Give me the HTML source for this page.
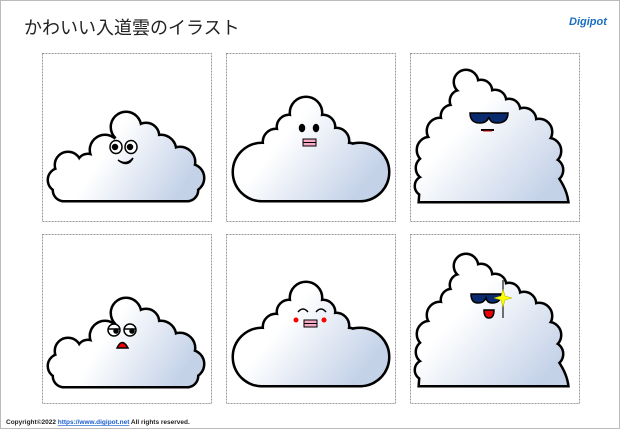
<!DOCTYPE html>
<html><head><meta charset="utf-8"><style>
body{margin:0;width:620px;height:430px;overflow:hidden;background:#fff;font-family:"Liberation Sans","Noto Sans CJK JP",sans-serif}
</style></head><body>
<svg width="620" height="430" viewBox="0 0 620 430" xmlns="http://www.w3.org/2000/svg">
<defs>
<linearGradient id="gA" x1="80" y1="130" x2="190" y2="200" gradientUnits="userSpaceOnUse">
<stop offset="0.25" stop-color="#ffffff"/><stop offset="0.9" stop-color="#c4d2e8"/></linearGradient>
<linearGradient id="gB" x1="260" y1="110" x2="370" y2="200" gradientUnits="userSpaceOnUse">
<stop offset="0.25" stop-color="#ffffff"/><stop offset="0.9" stop-color="#c4d2e8"/></linearGradient>
<linearGradient id="gC" x1="440" y1="90" x2="560" y2="200" gradientUnits="userSpaceOnUse">
<stop offset="0.25" stop-color="#ffffff"/><stop offset="0.9" stop-color="#c4d2e8"/></linearGradient>
<g id="cA">
<circle cx="68" cy="165" r="12"/><circle cx="60" cy="180" r="11"/><circle cx="64" cy="190" r="10"/><circle cx="88" cy="165" r="10"/>
<circle cx="105" cy="150" r="14"/><circle cx="126" cy="127" r="14"/><circle cx="146" cy="136" r="12"/><circle cx="161" cy="150" r="14"/>
<circle cx="180" cy="162" r="14"/><circle cx="190" cy="178" r="13"/><circle cx="187" cy="190" r="10"/>
<polygon points="64,200 64,190 60,180 68,165 88,165 105,150 126,127 146,136 161,150 180,162 190,178 187,190 187,200"/>
</g>
<g id="cB">
<circle cx="306" cy="113" r="15"/><circle cx="289" cy="127" r="11"/><circle cx="323" cy="127" r="11"/><circle cx="276" cy="142" r="12"/>
<circle cx="336" cy="141" r="12"/><circle cx="268" cy="160" r="14"/><circle cx="348" cy="158" r="14"/>
<circle cx="262" cy="172" r="28"/><circle cx="360" cy="172" r="28"/>
<polygon points="262,200 262,172 268,160 276,142 289,127 306,113 323,127 336,141 348,158 360,172 360,200"/>
</g>
<g id="cC">
<circle cx="466" cy="82" r="11"/><circle cx="481" cy="91" r="10"/><circle cx="495" cy="101" r="10"/><circle cx="509" cy="110" r="10"/>
<circle cx="524" cy="120" r="11"/><circle cx="539" cy="132" r="12"/><circle cx="548" cy="151" r="12"/><circle cx="551" cy="170" r="11"/>
<circle cx="461" cy="101" r="10"/><circle cx="452" cy="116" r="10"/><circle cx="440" cy="131" r="12"/><circle cx="430" cy="150" r="12"/>
<circle cx="428" cy="168" r="11"/><circle cx="425" cy="186" r="9"/>
<path d="M420 201 L421 186 L428 168 L430 150 L440 131 L452 116 L461 101 L466 82 L481 91 L495 101 L509 110 L524 120 L539 132 L548 151 L551 170 Q565 186 567 201 Z"/>
</g>
</defs>
<rect x="0.5" y="0.5" width="619" height="428" fill="none" stroke="#bbb"/>
<text x="24" y="34" font-size="18" fill="#222">かわいい入道雲のイラスト</text>
<text x="569" y="25" font-size="11" font-weight="bold" fill="#1a6fc0" font-style="italic">Digipot</text>
<g fill="none" stroke="#999" stroke-dasharray="2,1">
<rect x="42.5" y="53.5" width="169" height="168"/><rect x="226.5" y="53.5" width="169" height="168"/><rect x="410.5" y="53.5" width="169" height="168"/>
<rect x="42.5" y="234.5" width="169" height="169"/><rect x="226.5" y="234.5" width="169" height="169"/><rect x="410.5" y="234.5" width="169" height="169"/>
</g>
<g stroke="#000" stroke-width="5" fill="#000">
<use href="#cA"/><use href="#cB"/><use href="#cC"/>
<use href="#cA" transform="translate(0,186)"/><use href="#cB" transform="translate(0,185)"/><use href="#cC" transform="translate(0,184)"/>
</g>
<use href="#cA" fill="url(#gA)"/><use href="#cB" fill="url(#gB)"/><use href="#cC" fill="url(#gC)"/>
<use href="#cA" fill="url(#gA)" transform="translate(0,186)"/><use href="#cB" fill="url(#gB)" transform="translate(0,185)"/><use href="#cC" fill="url(#gC)" transform="translate(0,184)"/>
<!-- faces -->
<g stroke="#000" stroke-width="1.5">
<ellipse cx="116" cy="147" rx="6" ry="6.5" fill="#fff"/><ellipse cx="131" cy="147" rx="6" ry="6.5" fill="#fff"/>
<circle cx="115" cy="147" r="2.5" fill="#000"/><circle cx="130" cy="147" r="2.5" fill="#000"/>
<path d="M118 160 Q126 166 133 158 Q128 168 118 160Z" fill="#e00"/>
<ellipse cx="302" cy="128" rx="2.5" ry="3.5" fill="#000"/><ellipse cx="316" cy="128" rx="2.5" ry="3.5" fill="#000"/>
<rect x="303" y="139" width="13" height="7" fill="#f7a8c4" stroke-width="1"/><line x1="303" y1="142.5" x2="316" y2="142.5" stroke-width="1"/>
<path d="M470 113 H508 Q508 123 497 123 Q490 123 489 117 Q487 123 480 123 Q470 123 470 113Z" fill="#0a2a70"/>
<path d="M481 130 H494" stroke-width="2"/><path d="M483 131 H492" stroke="#c00" stroke-width="1"/>
<ellipse cx="114" cy="330" rx="6" ry="6" fill="#fff"/><ellipse cx="130" cy="330" rx="6" ry="6" fill="#fff"/>
<path d="M108 329 H120 M124 329 H136"/><circle cx="116" cy="331" r="2" fill="#000"/><circle cx="132" cy="331" r="2" fill="#000"/>
<path d="M117 348 Q122 337 128 348Z" fill="#e00"/>
<path d="M298 312 Q303 306 308 312 M316 312 Q321 306 326 312" fill="none"/>
<rect x="304" y="320" width="13" height="7" fill="#f7a8c4" stroke-width="1"/><line x1="304" y1="323.5" x2="317" y2="323.5" stroke-width="1"/>
<path d="M471 294 H501 Q501 303 492 303 Q487 303 486 298 Q484 303 478 303 Q471 303 471 294Z" fill="#0a2a70"/>
<path d="M484 310 H494 Q494 318 489 318 Q484 318 484 310Z" fill="#e00"/>
</g>
<circle cx="296" cy="320" r="2.5" fill="#f00"/><circle cx="324" cy="320" r="2.5" fill="#f00"/>
<line x1="503" y1="280" x2="503" y2="318" stroke="#444" stroke-width="1.5"/>
<path d="M503 289 L505 296 L512 298 L505 300 L503 307 L501 300 L494 298 L501 296Z" fill="#ff0" stroke="#aa0" stroke-width="0.5"/>
<text x="6" y="424" font-size="6.5" font-weight="bold" fill="#222">Copyright©2022 <tspan fill="#1a5fd0" text-decoration="underline">https://www.digipot.net</tspan> All rights reserved.</text>
</svg>
</body></html>
